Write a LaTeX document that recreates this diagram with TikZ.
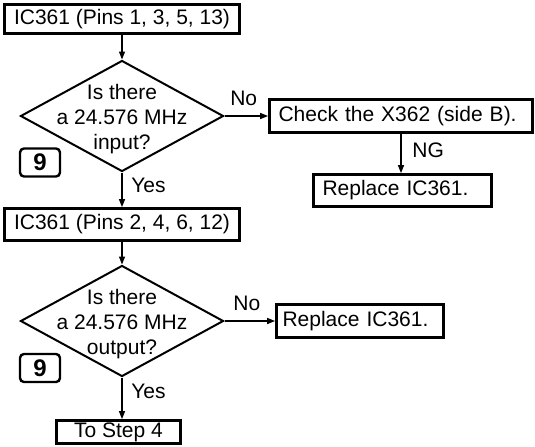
\documentclass[tikz,border=0pt]{standalone}
\usepackage{fontspec}
\setmainfont{Liberation Sans}
\usetikzlibrary{arrows.meta,shapes.geometric}
\tikzset{
	box/.style={draw, line width=1.4pt, inner sep=0pt, minimum height=16pt},
	lbox/.style={draw, line width=1.4pt, inner xsep=4.5pt, inner ysep=0pt, minimum height=16pt, text width=#1, align=left},
	decision/.style={draw, diamond, line width=1pt, minimum width=101.5pt, minimum height=55.5pt, inner sep=0pt},
	qtext/.style={align=center, inner sep=0pt},
	nine/.style={draw, line width=1.2pt, rounded corners=2pt, minimum width=20pt, minimum height=14pt, inner sep=0pt, font=\fontsize{12}{12}\selectfont\bfseries},
	flow/.style={line width=0.7pt, -{Triangle[length=4pt,width=3pt]}}
}

\begin{document}
\begin{tikzpicture}[x=0.5pt, y=-0.5pt, font=\fontsize{10.5}{12.5}\selectfont]
			%%%%% START %%%%%
			\useasboundingbox (0, 0) rectangle (535, 446);
			
			% first check
			\node[box, minimum width=117.5pt, minimum height=14.5pt] (pinsA) at (122, 19) {IC361 (Pins 1, 3, 5, 13)};
			\node[decision] (askA) at (122, 116) {};
			\node[qtext] (askAtxt) at (122, 119) {Is there\\a 24.576 MHz\\input?};
			\node[nine] (nineA) at (40, 162.5) {9};
			
			\node[lbox=122.5pt, minimum height=16.5pt] (checkX) at (401, 116) {Check the X362 (side B).};
			\node[lbox=80pt] (replA) at (402.5, 190.5) {Replace IC361.};
			
			\draw[flow] (pinsA.south) -- (askA.north);
			\draw[flow] (askA.east) -- (askA.east -| checkX.west) node[pos=0.44, above, yshift=1.5pt] {No};
			\draw[flow] (checkX.south) -- (checkX.south |- replA.north) node[pos=0.43, right, xshift=2pt] {NG};
			
			% second check
			\node[box, minimum width=117.5pt] (pinsB) at (122, 224.5) {IC361 (Pins 2, 4, 6, 12)};
			\node[decision] (askB) at (122, 321) {};
			\node[qtext] (askBtxt) at (122, 324) {Is there\\a 24.576 MHz\\output?};
			\node[nine] (nineB) at (40, 368) {9};
			
			\node[lbox=77.5pt, minimum height=16.5pt, inner xsep=3pt] (replB) at (360, 321) {Replace IC361.};
			\node[box, minimum width=62pt, minimum height=11.5pt] (stepF) at (118.5, 432) {To Step 4};
			
			\draw[flow] (askA.south) -- (pinsB.north) node[pos=0.37, right, xshift=1pt] {Yes};
			\draw[flow] (pinsB.south) -- (askB.north);
			\draw[flow] (askB.east) -- (askB.east -| replB.west) node[pos=0.44, above, yshift=1.5pt] {No};
			\draw[flow] (askB.south) -- (askB.south |- stepF.north) node[pos=0.33, right, xshift=1pt] {Yes};
			
			%%%%% END %%%%%
		\end{tikzpicture}
\end{document}
